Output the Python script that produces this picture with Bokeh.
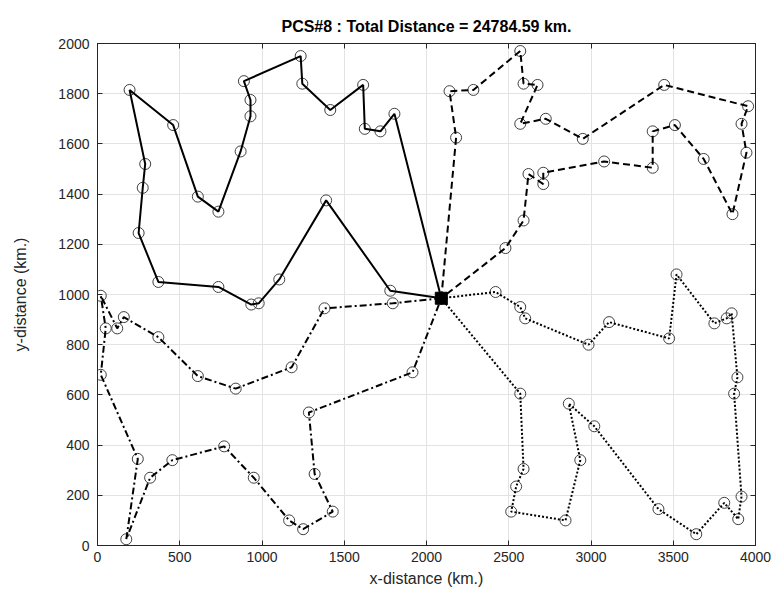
from bokeh.plotting import figure
from bokeh.models import ColumnDataSource, LinearAxis, SingleIntervalTicker, Range1d, CustomJSTickFormatter
from bokeh.embed import file_html
from bokeh.resources import INLINE

# ---------------- data ----------------
title_text = "PCS#8 : Total Distance = 24784.59 km."
depot_x = [2090]
depot_y = [985]

route_solid_x = [2090, 1780, 1390, 1105, 980, 935, 735, 370, 250, 275, 290, 195, 460, 610, 735, 870, 930, 930, 890, 1235, 1245, 1415, 1615, 1625, 1720, 1805, 2090]
route_solid_y = [985, 1015, 1375, 1060, 965, 960, 1030, 1050, 1245, 1425, 1520, 1815, 1675, 1390, 1330, 1570, 1710, 1775, 1850, 1950, 1840, 1735, 1835, 1660, 1650, 1720, 985]

route_dashdot_x = [2090, 1795, 1380, 1180, 840, 610, 370, 160, 120, 20, 50, 20, 245, 175, 320, 455, 770, 950, 1165, 1250, 1430, 1320, 1285, 1915, 2090]
route_dashdot_y = [985, 965, 945, 710, 625, 675, 830, 910, 865, 995, 865, 680, 345, 25, 270, 340, 395, 270, 100, 65, 135, 285, 530, 690, 985]

route_dashed_x = [2090, 2180, 2140, 2285, 2570, 2590, 2675, 2570, 2725, 2950, 3445, 3955, 3915, 3945, 3860, 3685, 3510, 3375, 3375, 3080, 2710, 2710, 2620, 2590, 2480, 2090]
route_dashed_y = [985, 1625, 1810, 1815, 1970, 1840, 1835, 1680, 1700, 1620, 1835, 1750, 1680, 1565, 1320, 1540, 1675, 1650, 1505, 1530, 1485, 1440, 1480, 1295, 1185, 985]

route_dotted_x = [2090, 2420, 2570, 2600, 2985, 3110, 3475, 3520, 3750, 3825, 3855, 3890, 3870, 3915, 3895, 3810, 3640, 3410, 3020, 2865, 2935, 2845, 2515, 2545, 2590, 2570, 2090]
route_dotted_y = [985, 1010, 950, 905, 800, 890, 825, 1080, 885, 905, 925, 670, 605, 195, 105, 170, 45, 145, 475, 565, 340, 100, 135, 235, 305, 605, 985]

x_label = "x-distance (km.)"
y_label = "y-distance (km.)"

FONT = "Liberation Sans"
AX_COLOR = "#262626"

p = figure(width=780, height=606,
           x_range=Range1d(0, 4000), y_range=Range1d(0, 2000),
           output_backend="svg", toolbar_location=None,
           min_border_left=97, min_border_right=25,
           min_border_top=43, min_border_bottom=61,
           background_fill_color="white", border_fill_color="white")

p.outline_line_color = AX_COLOR
p.outline_line_width = 1

xt = SingleIntervalTicker(interval=500, num_minor_ticks=0)
yt = SingleIntervalTicker(interval=200, num_minor_ticks=0)

for ax in p.xaxis:
    ax.ticker = xt
for ax in p.yaxis:
    ax.ticker = yt

for ax in list(p.xaxis) + list(p.yaxis):
    ax.axis_line_color = AX_COLOR
    ax.major_tick_line_color = AX_COLOR
    ax.major_tick_in = 5
    ax.major_tick_out = 0
    ax.minor_tick_line_color = None
    ax.major_label_text_font = FONT
    ax.major_label_text_font_size = "14px"
    ax.major_label_text_color = AX_COLOR
    ax.axis_label_text_font = FONT
    ax.axis_label_text_font_size = "16px"
    ax.axis_label_text_font_style = "normal"
    ax.axis_label_text_color = AX_COLOR

p.xaxis.axis_label = x_label
p.yaxis.axis_label = y_label
p.xaxis.major_label_standoff = 6
p.yaxis.major_label_standoff = 8
p.xaxis.axis_label_standoff = 5
p.yaxis.axis_label_standoff = 26

# box ticks on top and right (no labels)
blank = CustomJSTickFormatter(code="return '';")
top = LinearAxis(ticker=xt, formatter=blank, major_tick_in=5, major_tick_out=0,
                 minor_tick_line_color=None, axis_line_color=AX_COLOR, major_tick_line_color=AX_COLOR,
                 major_label_standoff=0)
right = LinearAxis(ticker=yt, formatter=blank, major_tick_in=5, major_tick_out=0,
                   minor_tick_line_color=None, axis_line_color=AX_COLOR, major_tick_line_color=AX_COLOR,
                   major_label_standoff=0)
p.add_layout(top, "above")
p.add_layout(right, "right")

for g in p.grid:
    g.grid_line_color = "#e3e3e3"
    g.grid_line_width = 1
p.xgrid.ticker = xt
p.ygrid.ticker = yt

p.title.text = title_text
p.title.align = "center"
p.title.text_font = FONT
p.title.text_font_size = "16px"
p.title.text_font_style = "bold"
p.title.text_color = "black"
p.title.standoff = 18

routes = [
    (route_solid_x, route_solid_y, "solid"),
    (route_dashed_x, route_dashed_y, "7 4"),
    (route_dotted_x, route_dotted_y, "2 2"),
    (route_dashdot_x, route_dashdot_y, "7 3 2 3"),
]

for rx, ry, dash in routes:
    src = ColumnDataSource(dict(x=rx, y=ry))
    p.scatter("x", "y", source=src, marker="circle", size=11, fill_alpha=0,
              line_color="#404040", line_width=1)
    p.line("x", "y", source=src, line_color="black", line_width=2, line_dash=dash)

p.scatter(depot_x, depot_y, marker="square", size=12, fill_color="black", line_color="black")

open("out.html", "w").write(file_html(p, INLINE))
